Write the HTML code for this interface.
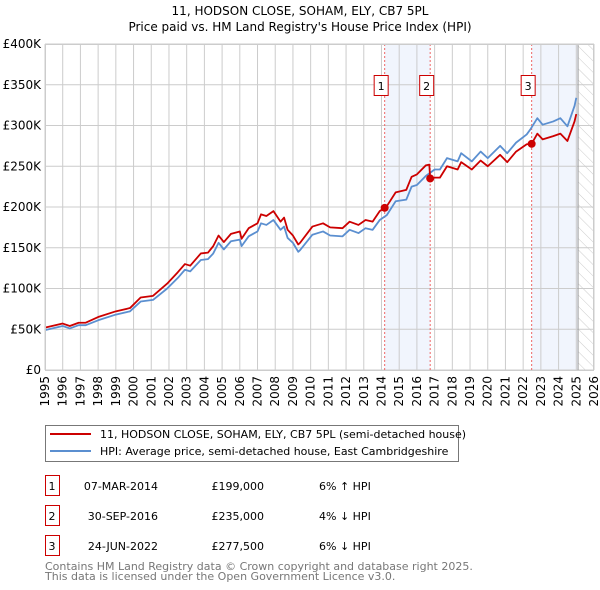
<!DOCTYPE html>
<html><head><meta charset="utf-8"><style>
body{margin:0;background:#fff;width:600px;height:590px;overflow:hidden;font-family:"DejaVu Sans","Liberation Sans",sans-serif;}
svg{position:absolute;left:0;top:0}
</style></head><body>
<svg width="600" height="590" xmlns="http://www.w3.org/2000/svg" font-family="DejaVu Sans, Liberation Sans, sans-serif">
<defs><pattern id="hatch" width="8" height="8" patternUnits="userSpaceOnUse" patternTransform="rotate(-45)"><line x1="0" y1="0" x2="0" y2="8" stroke="#ccc" stroke-width="1"/></pattern></defs>
<text x="300" y="15" text-anchor="middle" font-size="12">11, HODSON CLOSE, SOHAM, ELY, CB7 5PL</text>
<text x="300" y="31" text-anchor="middle" font-size="12">Price paid vs. HM Land Registry's House Price Index (HPI)</text>
<g id="plot"></g>
<g>
<rect x="45.5" y="425.5" width="413" height="36" fill="#fff" stroke="#777"/>
<line x1="50" y1="434" x2="91" y2="434" stroke="#cc0000" stroke-width="2"/>
<text x="100" y="438" font-size="11">11, HODSON CLOSE, SOHAM, ELY, CB7 5PL (semi-detached house)</text>
<line x1="50" y1="451" x2="91" y2="451" stroke="#5b8fd0" stroke-width="2"/>
<text x="100" y="455" font-size="11">HPI: Average price, semi-detached house, East Cambridgeshire</text>
</g>
<g id="table" font-size="11"></g>
<text x="45" y="570" font-size="11" fill="#777">Contains HM Land Registry data © Crown copyright and database right 2025.</text>
<text x="45" y="580" font-size="11" fill="#777">This data is licensed under the Open Government Licence v3.0.</text>
</svg>
<script>
const hpiYears=[1995.0,1996.0,1996.4,1996.9,1997.3,1998.0,1999.0,1999.8,2000.4,2001.1,2001.9,2002.5,2002.9,2003.2,2003.8,2004.2,2004.5,2004.8,2005.1,2005.5,2006.0,2006.1,2006.5,2007.0,2007.2,2007.5,2007.9,2008.3,2008.5,2008.7,2009.0,2009.3,2009.4,2010.1,2010.7,2011.1,2011.8,2012.2,2012.7,2013.1,2013.5,2013.9,2014.3,2014.8,2015.4,2015.7,2016.0,2016.5,2017.0,2017.3,2017.7,2018.3,2018.5,2019.1,2019.6,2020.0,2020.7,2021.1,2021.6,2022.2,2022.4,2022.8,2023.1,2023.7,2024.1,2024.5,2024.9,2025.0];
const hpiValues=[49,54,51,55,55,61,68,72,84,86,100,113,123,121,135,136,143,156,148,158,160,152,164,170,180,178,184,172,176,162,156,145,147,166,170,165,164,172,168,174,172,184,190,207,209,225,227,238,246,246,260,256,266,256,268,260,275,266,279,289,295,309,301,305,309,299,324,334];
const paidYears=[1995.0,1996.0,1996.4,1996.9,1997.3,1998.0,1999.0,1999.8,2000.4,2001.1,2001.9,2002.5,2002.9,2003.2,2003.8,2004.2,2004.5,2004.8,2005.1,2005.5,2006.0,2006.1,2006.5,2007.0,2007.2,2007.5,2007.9,2008.3,2008.5,2008.7,2009.0,2009.3,2009.4,2010.1,2010.7,2011.1,2011.8,2012.2,2012.7,2013.1,2013.5,2013.9,2014.18,2014.3,2014.8,2015.4,2015.7,2016.0,2016.5,2016.7,2016.75,2017.0,2017.3,2017.7,2018.3,2018.5,2019.1,2019.6,2020.0,2020.7,2021.1,2021.6,2022.2,2022.48,2022.8,2023.1,2023.7,2024.1,2024.5,2024.9,2025.0];
const paidValues=[52,57,54,58,58,65,72,76,89,91,106,120,130,128,143,144,152,165,157,167,170,161,174,180,191,189,195,182,187,172,165,154,156,176,180,175,174,182,178,184,182,195,199,201,218,221,237,240,251,252,235,236,236,250,246,255,246,257,250,264,255,268,277,277.5,290,283,287,290,281,305,314];
const saleLabels=["1","2","3"];
const saleYears=[2014.18,2016.75,2022.48];
const salePrices=[199,235,277.5];
const saleDates=["07-MAR-2014","30-SEP-2016","24-JUN-2022"];
const salePriceText=["£199,000","£235,000","£277,500"];
const saleHpiText=["6% ↑ HPI","4% ↓ HPI","6% ↓ HPI"];
const yTicks=[0,50,100,150,200,250,300,350,400];
const yTickLabels=["£0","£50K","£100K","£150K","£200K","£250K","£300K","£350K","£400K"];
const xTicks=[1995,1996,1997,1998,1999,2000,2001,2002,2003,2004,2005,2006,2007,2008,2009,2010,2011,2012,2013,2014,2015,2016,2017,2018,2019,2020,2021,2022,2023,2024,2025,2026];

const NS="http://www.w3.org/2000/svg";
const X0=45,X1=594,Y0=370,Y1=44;
const xs=y=>X0+(y-1995)/31*(X1-X0);
const ys=v=>Y0-v/400*(Y0-Y1);
const plot=document.getElementById('plot');
function mk(tag,attrs,parent){const e=document.createElementNS(NS,tag);for(const k in attrs)e.setAttribute(k,attrs[k]);(parent||plot).appendChild(e);return e;}
for(let i=0;i<saleYears.length;i++){
  const end=i+1<saleYears.length&&i!==1?saleYears[i+1]:(i===2?2025.1:null);
  if(end===null)continue;
  const r=mk('rect',{x:xs(saleYears[i]),y:Y1,width:xs(end)-xs(saleYears[i]),height:Y0-Y1,fill:'#eef3fc',opacity:0.8});
  
  
}
const hz=mk('rect',{x:xs(2025.1),y:Y1,width:X1-xs(2025.1),height:Y0-Y1,fill:'url(#hatch)'});


xTicks.forEach(t=>{const l=mk('line',{x1:xs(t),x2:xs(t),y1:Y1,y2:Y0,stroke:'#ccc'});


const tx=mk('text',{x:0,y:0,'font-size':12,'text-anchor':'end',transform:`translate(${xs(t)+4},${Y0+6}) rotate(-90)`});tx.textContent=t;

});
yTicks.forEach((t,i)=>{const l=mk('line',{x1:X0,x2:X1,y1:ys(t),y2:ys(t),stroke:'#ccc'});


const tx=mk('text',{x:X0-4,y:ys(t)+4,'font-size':12,'text-anchor':'end'});tx.textContent=yTickLabels[i];

});
const vl=mk('line',{x1:xs(2025.1),x2:xs(2025.1),y1:Y1,y2:Y0,stroke:'#999'});


saleYears.forEach((s,i)=>{const l=mk('line',{x1:xs(s),x2:xs(s),y1:Y1,y2:Y0,stroke:'#e66',"stroke-dasharray":'2,2'});

});
function line(xa,va,col,name){const p=mk('polyline',{points:xa.map((x,i)=>xs(x)+','+ys(va[i])).join(' '),fill:'none',stroke:col,'stroke-width':1.8,'stroke-linejoin':'round'});

}
line(hpiYears,hpiValues,'#5b8fd0','hpi-line');
line(paidYears,paidValues,'#cc0000','price-paid-line');
saleYears.forEach((s,i)=>{const c=mk('circle',{cx:xs(s),cy:ys(salePrices[i]),r:4,fill:'#cc0000'});


const b=mk('rect',{x:xs(s)-10.5,y:75.5,width:14,height:20,fill:'#fff',stroke:'#cc0000'});


const t=mk('text',{x:xs(s)-3.5,y:90,'font-size':11,'text-anchor':'middle'});t.textContent=saleLabels[i];

});
const frame=mk('rect',{x:X0+.5,y:Y1+.5,width:X1-X0-1,height:Y0-Y1,fill:'none',stroke:'#ccc'});


const tb=document.getElementById('table');
saleLabels.forEach((lab,i)=>{const y=475+i*30;
const b=mk('rect',{x:45.5,y:y+.5,width:14,height:20,fill:'#fff',stroke:'#cc0000'},tb);


const cells=[[52,lab,'middle'],[158,saleDates[i],'end'],[264,salePriceText[i],'end'],[319,saleHpiText[i],'start']];
cells.forEach(c=>{const t=mk('text',{x:c[0],y:y+15,'text-anchor':c[2]},tb);t.textContent=c[1];

});});
</script>
</body></html>
